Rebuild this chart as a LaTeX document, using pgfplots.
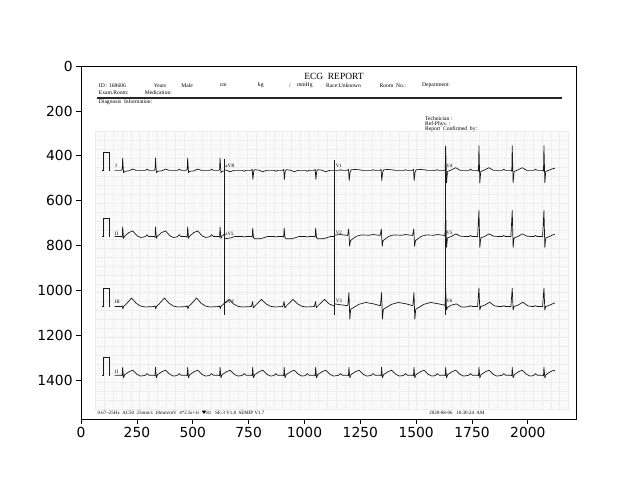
\documentclass[border=0pt]{standalone}
\usepackage{fontspec}
\setmainfont{DejaVu Sans}
\newfontfamily\rep{Liberation Serif}
\newfontfamily\dv{DejaVu Sans}
\usepackage{pgfplots}
\pgfplotsset{compat=1.18}

% ECG report scan shown as an image (pixel coordinates, y downwards)
\pgfplotsset{
  ecg/.style={black!90, line width=0.7bp, line join=round, mark=none},
  cal/.style={black!90, line width=0.7bp, mark=none},
}
\newcommand{\sm}{\rep\fontsize{5.6}{6}\selectfont}
\newcommand{\tn}{\rep\fontsize{5}{5.5}\selectfont}

\begin{document}
\begin{tikzpicture}
\path[use as bounding box] (-81bp,-61bp) rectangle (559bp,419bp);
\begin{axis}[
    at={(0,0)}, anchor=south west,
    scale only axis, width=495bp, height=353bp,
    xmin=-0.5, xmax=2215.5, ymin=-0.5, ymax=1573.5,
    y dir=reverse,
    xtick={0,250,500,750,1000,1250,1500,1750,2000},
    ytick={0,200,400,600,800,1000,1200,1400},
    xtick pos=lower, ytick pos=left,
    tick align=outside, major tick length=4.9bp,
    tick style={black, line width=0.9bp},
    axis line style={black, line width=0.9bp},
    ticklabel style={font=\fontsize{13.9}{16}\selectfont},
    /pgf/number format/assume math mode=true,
    /pgf/number format/1000 sep={},
    axis background/.style={fill=white},
]

% ECG paper grid
\pgfplotsinvokeforeach{62,70,...,2182}{\draw[gray!5, line width=0.2bp] (axis cs:#1,290) -- (axis cs:#1,1530);}
\pgfplotsinvokeforeach{290,298,...,1530}{\draw[gray!5, line width=0.2bp] (axis cs:62,#1) -- (axis cs:2182,#1);}
\pgfplotsinvokeforeach{62,102,...,2182}{\draw[gray!14, line width=0.3bp] (axis cs:#1,290) -- (axis cs:#1,1530);}
\pgfplotsinvokeforeach{290,330,...,1530}{\draw[gray!14, line width=0.3bp] (axis cs:62,#1) -- (axis cs:2182,#1);}

% header
\node[font=\rep\fontsize{9.5}{10}\selectfont] at (axis cs:1132,45) {ECG\ \ REPORT};
\node[anchor=west, font=\sm] at (axis cs:64,87) {ID : 168606};
\node[anchor=west, font=\sm] at (axis cs:310,87) {Years};
\node[anchor=west, font=\sm] at (axis cs:433,87) {Male};
\node[anchor=west, font=\sm] at (axis cs:606,87) {cm};
\node[anchor=west, font=\sm] at (axis cs:776,87) {kg};
\node[anchor=west, font=\sm] at (axis cs:916,87) {/};
\node[anchor=west, font=\sm] at (axis cs:951,87) {mmHg};
\node[anchor=west, font=\sm] at (axis cs:1081,87) {Race:Unknown};
\node[anchor=west, font=\sm] at (axis cs:1321,87) {Room\ \ No.:};
\node[anchor=west, font=\sm] at (axis cs:1511,87) {Department:};
\node[anchor=west, font=\sm] at (axis cs:64,117) {Exam.Room:};
\node[anchor=west, font=\sm] at (axis cs:270,117) {Medication:};
\draw[black!85, line width=1bp] (axis cs:70,138) -- (axis cs:2151,138);
\draw[black!85, line width=0.45bp] (axis cs:70,145) -- (axis cs:2151,145);
\node[anchor=west, font=\sm] at (axis cs:64,162) {Diagnosis\ \ Information:};
\node[anchor=west, font=\sm] at (axis cs:1524,233) {Technician :};
\node[anchor=west, font=\sm] at (axis cs:1524,257) {Ref-Phys. :};
\node[anchor=west, font=\sm] at (axis cs:1524,282) {Report\ \ Confirmed\ \ by:};

% footer
\node[anchor=west, font=\tn] at (axis cs:58,1546) {0.67\textasciitilde25Hz\ \ AC50\ \ 25mm/s\ \ 10mm/mV\ \ 4*2.5s+1r\ \ {\dv ♥}81\ \ \ SE-3 V1.8\ \ SEMIP V1.7};
\node[anchor=west, font=\tn] at (axis cs:1543,1546) {2020-08-06\ \ \ 10:30:24\ \ AM};

% lead separators
\draw[black!90, line width=0.6bp] (axis cs:640,415) -- (axis cs:640,1110);
\draw[black!90, line width=0.6bp] (axis cs:1134,420) -- (axis cs:1134,1110);
\draw[black!90, line width=0.6bp] (axis cs:1629,360) -- (axis cs:1629,1110);

% lead names
\node[anchor=west, inner sep=0.5bp, font=\tn] at (axis cs:150,447) {I};
\node[anchor=west, inner sep=0.5bp, font=\tn] at (axis cs:643,446) {aVR};
\node[anchor=west, inner sep=0.5bp, font=\tn] at (axis cs:1137,443) {V1};
\node[anchor=west, inner sep=0.5bp, font=\tn] at (axis cs:1632,443) {V4};
\node[anchor=west, inner sep=0.5bp, font=\tn] at (axis cs:148,749) {II};
\node[anchor=west, inner sep=0.5bp, font=\tn] at (axis cs:643,748) {aVL};
\node[anchor=west, inner sep=0.5bp, font=\tn] at (axis cs:1137,742) {V2};
\node[anchor=west, inner sep=0.5bp, font=\tn] at (axis cs:1632,742) {V5};
\node[anchor=west, inner sep=0.5bp, font=\tn] at (axis cs:148,1050) {III};
\node[anchor=west, inner sep=0.5bp, font=\tn] at (axis cs:643,1050) {aVF};
\node[anchor=west, inner sep=0.5bp, font=\tn] at (axis cs:1137,1045) {V3};
\node[anchor=west, inner sep=0.5bp, font=\tn] at (axis cs:1632,1045) {V6};
\node[anchor=west, inner sep=0.5bp, font=\tn] at (axis cs:148,1362) {II};

% calibration pulses
\addplot[cal] coordinates {(94,465)(100,465)(100,385)(125,385)(125,465)(131,465)};
\addplot[cal] coordinates {(94,760)(100,760)(100,680)(125,680)(125,760)(131,760)};
\addplot[cal] coordinates {(94,1072)(100,1072)(100,992)(125,992)(125,1072)(131,1072)};
\addplot[cal] coordinates {(94,1378)(100,1378)(100,1298)(125,1298)(125,1378)(131,1378)};

% row 1: I, aVR, V1, V4
\addplot[ecg] coordinates {(150,465)(180,465)(184,461)(186,410)(190,475)(195,469)(214,467)(231,459)(248,465)(288,465)(295,459)(303,465)(327,465)(331,461)(333,410)(337,475)(342,469)(361,467)(378,459)(395,465)(432,465)(439,459)(447,465)(471,465)(475,461)(477,410)(481,475)(486,469)(505,467)(522,459)(539,465)(577,465)(584,459)(592,465)(616,465)(620,461)(622,410)(626,475)(631,469)(640,468)};
\addplot[ecg] coordinates {(640,463)(650,464)(667,471)(684,465)(723,465)(730,469)(738,465)(762,465)(766,460)(769,505)(773,467)(778,462)(796,464)(813,471)(830,465)(864,465)(871,469)(879,465)(903,465)(907,460)(910,505)(914,467)(919,462)(937,464)(954,471)(971,465)(1005,465)(1012,469)(1020,465)(1044,465)(1048,460)(1051,505)(1055,467)(1060,462)(1078,464)(1095,471)(1112,465)(1134,465)};
\addplot[ecg] coordinates {(1134,465)(1154,465)(1161,462)(1169,465)(1193,465)(1197,460)(1200,510)(1204,473)(1209,462)(1227,461)(1244,462)(1261,465)(1300,465)(1307,462)(1315,465)(1339,465)(1343,460)(1346,510)(1350,473)(1355,462)(1373,461)(1390,462)(1407,465)(1445,465)(1452,462)(1460,465)(1484,465)(1488,460)(1491,510)(1495,473)(1500,462)(1518,461)(1535,462)(1552,465)(1587,465)(1594,462)(1602,465)(1629,465)};
\addplot[ecg] coordinates {(1629,465)(1630,468)(1632,355)(1636,520)(1640,470)(1657,463)(1677,453)(1697,465)(1736,465)(1743,460)(1751,465)(1775,465)(1779,468)(1781,355)(1785,520)(1789,470)(1806,463)(1826,453)(1846,465)(1885,465)(1892,460)(1900,465)(1924,465)(1928,468)(1930,355)(1934,520)(1938,470)(1955,463)(1975,453)(1995,465)(2027,465)(2034,460)(2042,465)(2066,465)(2070,468)(2072,355)(2076,520)(2080,470)(2097,463)(2110,458)(2121,455)};

% row 2: II, aVL, V2, V5
\addplot[ecg] coordinates {(150,760)(180,760)(184,763)(186,717)(190,768)(195,758)(214,742)(231,735)(251,757)(266,764)(281,762)(288,760)(295,752)(303,760)(327,760)(331,763)(333,717)(337,768)(342,758)(361,742)(378,735)(398,757)(413,764)(428,762)(432,760)(439,752)(447,760)(471,760)(475,763)(477,717)(481,768)(486,758)(505,742)(522,735)(542,757)(557,764)(572,762)(577,760)(584,752)(592,760)(616,760)(620,763)(622,717)(626,768)(631,758)(640,750)};
\addplot[ecg] coordinates {(640,770)(670,766)(687,760)(723,760)(730,762)(738,760)(762,760)(766,762)(768,723)(772,765)(777,770)(798,770)(816,766)(833,760)(864,760)(871,762)(879,760)(903,760)(907,762)(909,723)(913,765)(918,770)(939,770)(957,766)(974,760)(1005,760)(1012,762)(1020,760)(1044,760)(1048,762)(1050,723)(1054,765)(1059,770)(1080,770)(1098,766)(1115,760)(1134,760)};
\addplot[ecg] coordinates {(1134,754)(1161,751)(1193,755)(1198,726)(1202,803)(1206,778)(1219,768)(1234,758)(1254,753)(1289,754)(1307,751)(1339,755)(1344,726)(1348,803)(1352,778)(1365,768)(1380,758)(1400,753)(1435,754)(1452,751)(1484,755)(1489,726)(1493,803)(1497,778)(1510,768)(1525,758)(1545,753)(1580,754)(1594,751)(1629,755)};
\addplot[ecg] coordinates {(1629,760)(1632,644)(1636,808)(1640,766)(1657,760)(1677,748)(1697,758)(1722,760)(1736,760)(1743,755)(1751,760)(1775,760)(1781,644)(1785,808)(1789,766)(1806,760)(1826,748)(1846,758)(1871,760)(1885,760)(1892,755)(1900,760)(1924,760)(1930,644)(1934,808)(1938,766)(1955,760)(1975,748)(1995,758)(2020,760)(2027,760)(2034,755)(2042,760)(2066,760)(2072,644)(2076,808)(2080,766)(2097,760)(2110,753)(2121,750)};

% row 3: III, aVF, V3, V6
\addplot[ecg] coordinates {(150,1072)(180,1072)(184,1069)(187,1082)(191,1070)(201,1062)(226,1034)(246,1057)(266,1070)(286,1074)(327,1072)(331,1069)(334,1082)(338,1070)(348,1062)(373,1034)(393,1057)(413,1070)(433,1074)(471,1072)(475,1069)(478,1082)(482,1070)(492,1062)(517,1034)(537,1057)(557,1070)(577,1074)(616,1072)(620,1069)(623,1082)(627,1070)(637,1062)(640,1058)};
\addplot[ecg] coordinates {(640,1061)(662,1040)(682,1060)(702,1071)(722,1074)(762,1072)(768,1050)(771,1078)(775,1072)(785,1062)(808,1040)(828,1060)(848,1071)(868,1074)(903,1072)(909,1050)(912,1078)(916,1072)(926,1062)(949,1040)(969,1060)(989,1071)(1009,1074)(1044,1072)(1050,1050)(1053,1078)(1057,1072)(1067,1062)(1090,1040)(1110,1060)(1134,1071)};
\addplot[ecg] coordinates {(1134,1060)(1160,1064)(1185,1067)(1194,1068)(1199,1010)(1203,1128)(1207,1084)(1219,1077)(1244,1062)(1274,1054)(1309,1060)(1334,1067)(1340,1068)(1345,1010)(1349,1128)(1353,1084)(1365,1077)(1390,1062)(1420,1054)(1455,1060)(1480,1067)(1485,1068)(1490,1010)(1494,1128)(1498,1084)(1510,1077)(1535,1062)(1565,1054)(1600,1060)(1629,1066)};
\addplot[ecg] coordinates {(1629,1072)(1632,990)(1636,1087)(1640,1076)(1657,1066)(1680,1060)(1702,1074)(1722,1074)(1736,1072)(1743,1068)(1751,1072)(1775,1072)(1781,990)(1785,1087)(1789,1072)(1806,1066)(1829,1053)(1851,1069)(1871,1072)(1885,1072)(1892,1068)(1900,1072)(1924,1072)(1930,990)(1934,1087)(1938,1072)(1955,1066)(1978,1053)(2000,1069)(2020,1072)(2027,1072)(2034,1068)(2042,1072)(2066,1072)(2072,990)(2076,1087)(2080,1072)(2097,1066)(2110,1060)(2121,1056)};

% row 4: rhythm strip II
\addplot[ecg] coordinates {(150,1378)(180,1378)(184,1381)(186,1343)(190,1390)(195,1376)(214,1363)(231,1356)(251,1375)(266,1382)(281,1380)
(288,1378)(295,1371)(303,1378)(327,1378)(331,1381)(333,1343)(337,1390)(342,1376)(361,1363)(378,1356)(398,1375)(413,1382)(428,1380)
(432,1378)(439,1371)(447,1378)(471,1378)(475,1381)(477,1343)(481,1390)(486,1376)(505,1363)(522,1356)(542,1375)(557,1382)(572,1380)
(577,1378)(584,1371)(592,1378)(616,1378)(620,1381)(622,1343)(626,1390)(631,1376)(650,1363)(667,1356)(687,1375)(702,1382)(717,1380)
(723,1378)(730,1371)(738,1378)(762,1378)(766,1381)(768,1343)(772,1390)(777,1376)(796,1363)(813,1356)(833,1375)(848,1382)(863,1380)
(864,1378)(871,1371)(879,1378)(903,1378)(907,1381)(909,1343)(913,1390)(918,1376)(937,1363)(954,1356)(974,1375)(989,1382)(1004,1380)
(1005,1378)(1012,1371)(1020,1378)(1044,1378)(1048,1381)(1050,1343)(1054,1390)(1059,1376)(1078,1363)(1095,1356)(1115,1375)(1130,1382)(1145,1380)
(1154,1378)(1161,1371)(1169,1378)(1193,1378)(1197,1381)(1199,1343)(1203,1390)(1208,1376)(1227,1363)(1244,1356)(1264,1375)(1279,1382)(1294,1380)
(1300,1378)(1307,1371)(1315,1378)(1339,1378)(1343,1381)(1345,1343)(1349,1390)(1354,1376)(1373,1363)(1390,1356)(1410,1375)(1425,1382)(1440,1380)
(1445,1378)(1452,1371)(1460,1378)(1484,1378)(1488,1381)(1490,1343)(1494,1390)(1499,1376)(1518,1363)(1535,1356)(1555,1375)(1570,1382)(1585,1380)
(1587,1378)(1594,1371)(1602,1378)(1626,1378)(1630,1381)(1632,1343)(1636,1390)(1641,1376)(1660,1363)(1677,1356)(1697,1375)(1712,1382)(1727,1380)
(1736,1378)(1743,1371)(1751,1378)(1775,1378)(1779,1381)(1781,1343)(1785,1390)(1790,1376)(1809,1363)(1826,1356)(1846,1375)(1861,1382)(1876,1380)
(1885,1378)(1892,1371)(1900,1378)(1924,1378)(1928,1381)(1930,1343)(1934,1390)(1939,1376)(1958,1363)(1975,1356)(1995,1375)(2010,1382)(2025,1380)
(2027,1378)(2034,1371)(2042,1378)(2066,1378)(2070,1381)(2072,1343)(2076,1390)(2081,1376)(2100,1363)(2117,1356)(2121,1360)};

\end{axis}
\end{tikzpicture}
\end{document}
